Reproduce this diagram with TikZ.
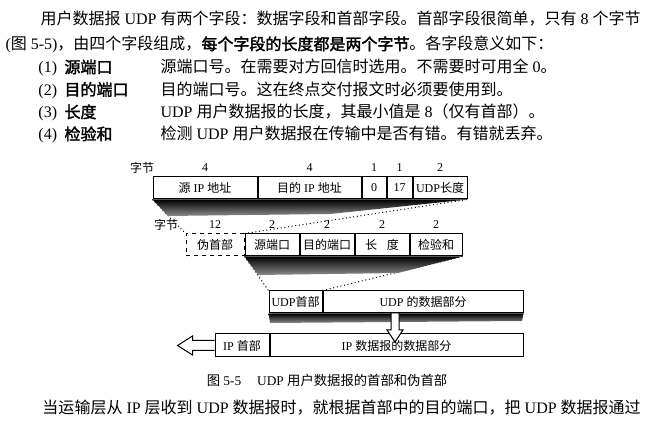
\documentclass[tikz,border=0pt]{standalone}
\usepackage{fontspec}
\setmainfont{Liberation Serif}
\newfontfamily\cjk{Noto Sans CJK SC}[BoldFont={Noto Sans CJK SC},BoldFeatures={FakeBold=2}]

\tikzset{every picture/.style={line width=0.75pt}}
\tikzset{
  fieldbox/.style={draw, fill=white, inner sep=0pt, minimum height=16.5pt, minimum width=#1*0.75pt, font=\fontsize{9}{10}\selectfont},
  numlbl/.style={inner sep=0pt, font=\fontsize{9}{10}\selectfont},
  bodytxt/.style={anchor=base west, inner sep=0pt, font=\fontsize{12}{14}\selectfont},
  dotline/.style={dotted},
  shadowfill/.style={top color=black, bottom color=black!45, draw=none},
  hollowarrow/.style={draw, fill=white, line join=miter},
}

\begin{document}
\begin{tikzpicture}[x=0.75pt,y=0.75pt,yscale=-1,xscale=1]
\useasboundingbox (0,0) rectangle (650,427);

% Text Node
\draw (40,25) node [bodytxt] (line1) {{\cjk 用户数据报} UDP {\cjk 有两个字段：数据字段和首部字段。首部字段很简单，只有} 8 {\cjk 个字节}};
% Text Node
\draw (5,50) node [bodytxt] (line2) {({\cjk 图} 5-5){\cjk ，由四个字段组成，}{\bfseries\cjk 每个字段的长度都是两个字节}{\cjk 。各字段意义如下：}};
% Text Node
\draw (38,73) node [bodytxt] (num1) {(1)};
\draw (64,73) node [bodytxt] (key1) {\bfseries\cjk 源端口};
\draw (160,73) node [bodytxt] (txt1) {{\cjk 源端口号。在需要对方回信时选用。不需要时可用全} 0{\cjk 。}};
% Text Node
\draw (38,95.5) node [bodytxt] (num2) {(2)};
\draw (64,95.5) node [bodytxt] (key2) {\bfseries\cjk 目的端口};
\draw (160,95.5) node [bodytxt] (txt2) {\cjk 目的端口号。这在终点交付报文时必须要使用到。};
% Text Node
\draw (38,118) node [bodytxt] (num3) {(3)};
\draw (64,118) node [bodytxt] (key3) {\bfseries\cjk 长度};
\draw (160,118) node [bodytxt] (txt3) {UDP {\cjk 用户数据报的长度，其最小值是} 8{\cjk （仅有首部）。}};
% Text Node
\draw (38,140) node [bodytxt] (num4) {(4)};
\draw (64,140) node [bodytxt] (key4) {\bfseries\cjk 检验和};
\draw (160,140) node [bodytxt] (txt4) {{\cjk 检测} UDP {\cjk 用户数据报在传输中是否有错。有错就丢弃。}};

%Shape: Rectangle -- pseudo header row
\node [fieldbox=104] (srcip) at (205,188) {{\cjk 源} IP {\cjk 地址}};
\node [fieldbox=103, anchor=west] (dstip) at (srcip.east) {{\cjk 目的} IP {\cjk 地址}};
\node [fieldbox=24, anchor=west] (zero) at (dstip.east) {0};
\node [fieldbox=25, anchor=west] (proto) at (zero.east) {17};
\node [fieldbox=54, anchor=west] (udplen) at (proto.east) {UDP{\cjk 长度}};

%Shape: Rectangle -- udp header row
\node [fieldbox=58, dashed] (pseudo) at (215,245) {\cjk 伪首部};
\node [fieldbox=54, anchor=west] (srcport) at (pseudo.east) {\cjk 源端口};
\node [fieldbox=54, anchor=west] (dstport) at (srcport.east) {\cjk 目的端口};
\node [fieldbox=54, anchor=west] (ulen) at (dstport.east) {\cjk 长\hspace{0.8em}度};
\node [fieldbox=52, anchor=west] (chksum) at (ulen.east) {\cjk 检验和};

%Shape: Rectangle -- udp datagram
\node [fieldbox=53] (udphdr) at (295.5,302) {UDP{\cjk 首部}};
\node [fieldbox=200, anchor=west] (udpdata) at (udphdr.east) {UDP {\cjk 的数据部分}};

%Shape: Rectangle -- ip datagram
\node [fieldbox=54, minimum height=17.25pt] (iphdr) at (242,345.5) {IP {\cjk 首部}};
\node [fieldbox=253, minimum height=17.25pt, anchor=west] (ipdata) at (iphdr.east) {IP {\cjk 数据报的数据部分}};

% Text Node
\draw (142,168) node [numlbl] (bytes1) {\cjk 字节};
\draw (srcip.center |- 0,168) node [numlbl] (len1) {4};
\draw (dstip.center |- 0,168) node [numlbl] (len2) {4};
\draw (zero.center |- 0,168) node [numlbl] (len3) {1};
\draw (proto.center |- 0,168) node [numlbl] (len4) {1};
\draw (udplen.center |- 0,168) node [numlbl] (len5) {2};
% Text Node
\draw (166,225) node [numlbl] (bytes2) {\cjk 字节};
\draw (pseudo.center |- 0,225) node [numlbl] (len6) {12};
\draw (srcport.center |- 0,225) node [numlbl] (len7) {2};
\draw (dstport.center |- 0,225) node [numlbl] (len8) {2};
\draw (ulen.center |- 0,225) node [numlbl] (len9) {2};
\draw (chksum.center |- 0,225) node [numlbl] (len10) {2};

%Straight Lines
\draw [dotline] (srcip.south west) -- (pseudo.north west);
\draw [dotline] (srcport.north west) -- (udplen.south east);
\draw [dotline] (srcport.south west) -- (udphdr.north west);
\draw [dotline] (chksum.south east) -- (udphdr.north east);

%Shape: Polygon -- shadows
\shade [shadowfill] (srcip.south west) -- (udplen.south east) -- (330,214) -- (168,216) -- cycle;
\shade [shadowfill] (srcport.south west) -- (chksum.south east) -- (398,273) -- (258,275) -- cycle;
\shade [shadowfill] (udphdr.south west) -- (udpdata.south east) -- (522,321) -- (270,323) -- cycle;

%Shape: Arrow -- hollow down arrow
\coordinate (dnarr) at (395,313);
\draw [hollowarrow] (dnarr) ++(-4,0) -- ++(0,17) -- ++(-4,0) -- ++(8,12) -- ++(8,-12) -- ++(-4,0) -- ++(0,-17) -- cycle;
%Shape: Arrow -- hollow left arrow
\draw [hollowarrow] (iphdr.west) ++(0,-5) -- ++(-22,0) -- ++(0,-4.5) -- ++(-15,9.5) -- ++(15,9.5) -- ++(0,-4.5) -- ++(22,0);

% Text Node
\draw (327,380) node [numlbl, font=\fontsize{10}{12}\selectfont] (caption) {{\cjk 图} 5-5\hspace{1.2em}UDP {\cjk 用户数据报的首部和伪首部}};
% Text Node
\draw (42,414) node [bodytxt] (line3) {{\cjk 当运输层从} IP {\cjk 层收到} UDP {\cjk 数据报时，就根据首部中的目的端口，把} UDP {\cjk 数据报通过}};

\end{tikzpicture}
\end{document}
